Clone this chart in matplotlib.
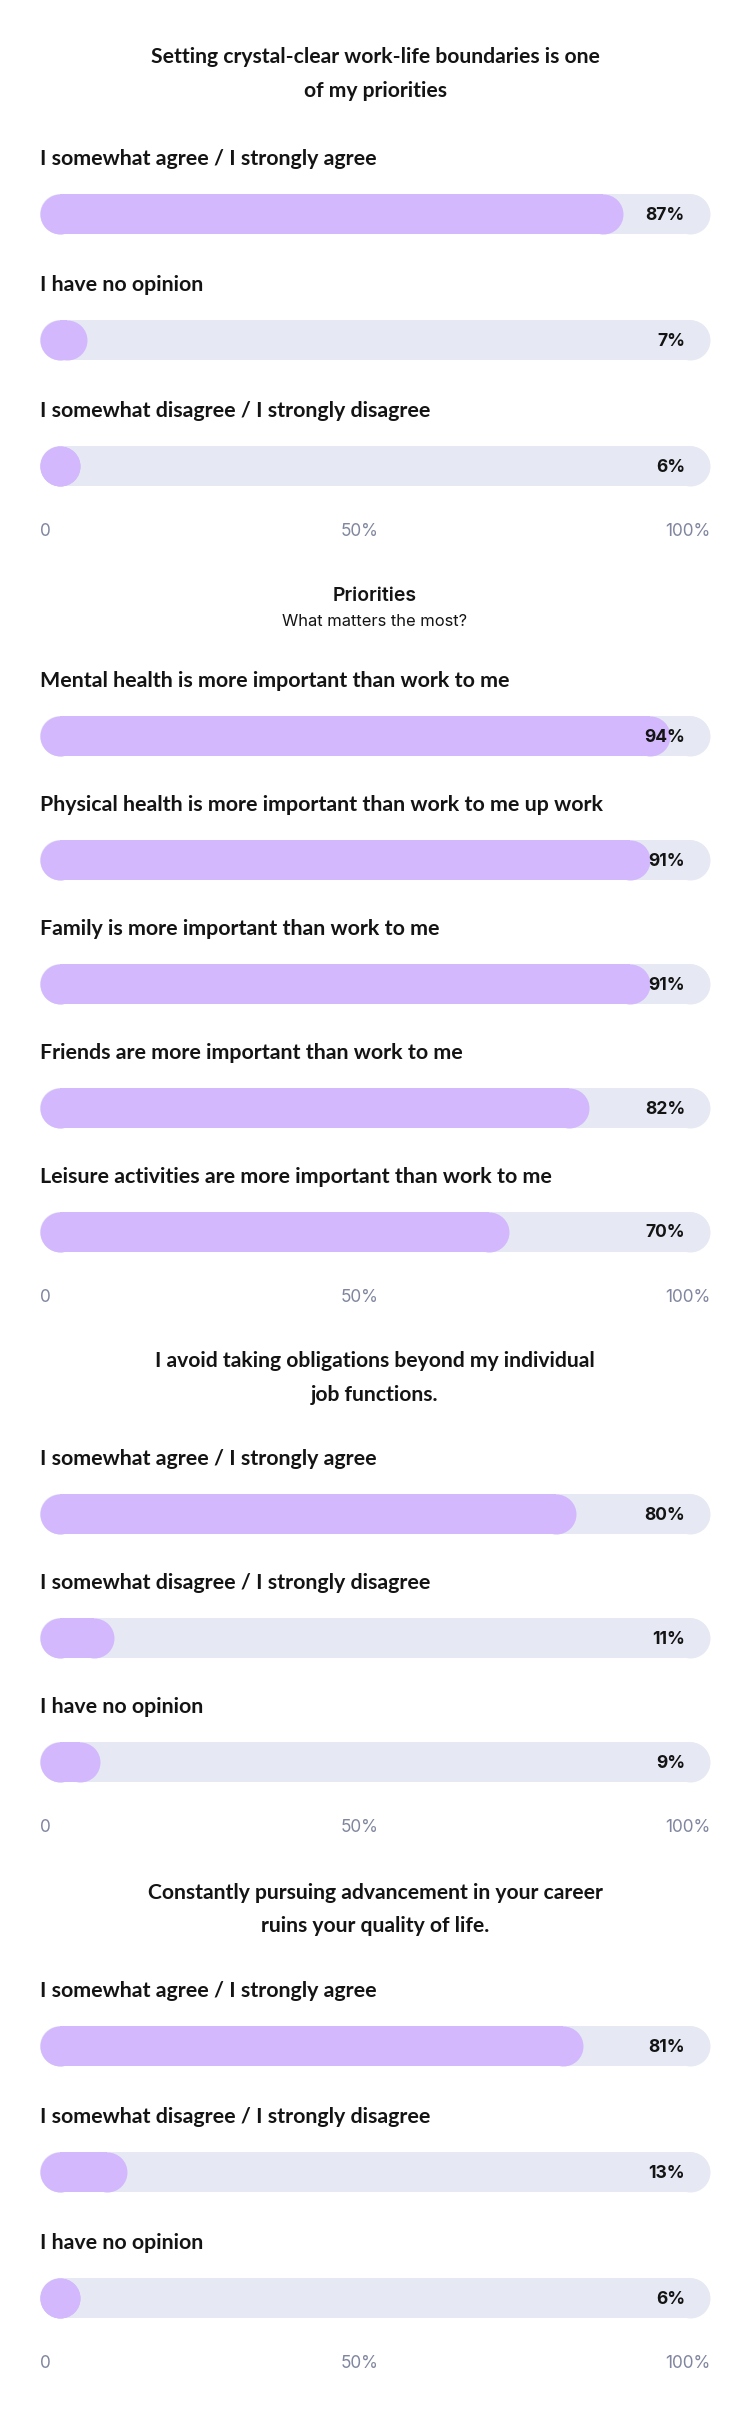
import matplotlib
matplotlib.use("Agg")
import matplotlib.pyplot as plt

# ---------------- data ----------------
s1_title = ["Setting crystal-clear work-life boundaries is one", "of my priorities"]
s1_labels = ["I somewhat agree / I strongly agree", "I have no opinion",
             "I somewhat disagree / I strongly disagree"]
s1_values = [87, 7, 6]

s2_title = ["Priorities"]
s2_subtitle = "What matters the most?"
s2_labels = ["Mental health is more important than work to me",
             "Physical health is more important than work to me up work",
             "Family is more important than work to me",
             "Friends are more important than work to me",
             "Leisure activities are more important than work to me"]
s2_values = [94, 91, 91, 82, 70]

s3_title = ["I avoid taking obligations beyond my individual", "job functions."]
s3_labels = ["I somewhat agree / I strongly agree",
             "I somewhat disagree / I strongly disagree", "I have no opinion"]
s3_values = [80, 11, 9]

s4_title = ["Constantly pursuing advancement in your career", "ruins your quality of life."]
s4_labels = ["I somewhat agree / I strongly agree",
             "I somewhat disagree / I strongly disagree", "I have no opinion"]
s4_values = [81, 13, 6]

tick_values = [0, 50, 100]
tick_labels = ["0", "50%", "100%"]

# ---------------- style ----------------
W, H = 750, 2412
FILL = "#d3b8fd"
TRACK = "#e6e9f4"
TXT = "#141414"
TICK = "#80869f"
LABEL_FONT = dict(family=["Lato", "DejaVu Sans"], weight="bold", size=15.4)
TITLE_FONT = dict(family=["Lato", "DejaVu Sans"], weight="bold", size=15.2)
VAL_FONT = dict(family=["Inter", "DejaVu Sans"], weight="bold", size=12.6)
TICK_FONT = dict(family=["Inter", "DejaVu Sans"], weight="normal", size=12.4)

fig = plt.figure(figsize=(W / 100, H / 100), dpi=100)
fig.patch.set_facecolor("white")

TRACK_L, TRACK_W = 40, 670
BAR_H = 40


def fy(px):
    return 1 - px / H


def section(labels, values, first_px, step, title_lines, title_px, subtitle=None, sub_px=None,
            title_font=None):
    n = len(values)
    top = first_px - step / 2
    bottom = first_px + (n - 1) * step + step / 2
    ax = fig.add_axes([TRACK_L / W, 1 - bottom / H, TRACK_W / W, (bottom - top) / H])
    ax.set_xlim(0, 100)
    ax.set_ylim(n - 0.5, -0.5)
    ax.axis("off")
    r = (BAR_H / 2) / TRACK_W * 100
    lw = BAR_H * 72 / 100
    for i, (lab, v) in enumerate(zip(labels, values)):
        ax.plot([r, 100 - r], [i, i], color=TRACK, lw=lw, solid_capstyle="round",
                marker="o", ms=lw, mew=0, zorder=1, clip_on=False)
        ax.plot([r, v - r], [i, i], color=FILL, lw=lw, solid_capstyle="butt",
                marker="o", ms=lw, mew=0, zorder=2, clip_on=False)
        ax.text(0, i - 55 / step, lab, ha="left", va="center", color=TXT, clip_on=False,
                **LABEL_FONT)
        ax.text(100 - 25 / TRACK_W * 100, i + 1 / step, f"{v}%", ha="right", va="center",
                color=TXT, zorder=3, **VAL_FONT)
    ty = n - 1 + 66 / step
    ax.text(tick_values[0], ty, tick_labels[0], ha="left", va="center", color=TICK,
            clip_on=False, **TICK_FONT)
    ax.text(tick_values[1] - 2.3, ty, tick_labels[1], ha="center", va="center", color=TICK,
            clip_on=False, **TICK_FONT)
    ax.text(tick_values[2], ty, tick_labels[2], ha="right", va="center", color=TICK,
            clip_on=False, **TICK_FONT)
    tf = title_font or TITLE_FONT
    for line, py in zip(title_lines, title_px):
        fig.text(0.5, fy(py), line, ha="center", va="center", color=TXT, **tf)
    if subtitle:
        fig.text(0.5, fy(sub_px), subtitle, ha="center", va="center", color=TXT,
                 family=["Inter", "DejaVu Sans"], size=11.9)


section(s1_labels, s1_values, 214, 126, s1_title, [57, 91])
section(s2_labels, s2_values, 736, 124, s2_title, [596], s2_subtitle, 621,
        title_font=dict(family=["Inter", "DejaVu Sans"], weight="semibold", size=14))
section(s3_labels, s3_values, 1514, 124, s3_title, [1361, 1395])
section(s4_labels, s4_values, 2046, 126, s4_title, [1893, 1926])

fig.savefig("out.png", dpi=100, facecolor="white")
